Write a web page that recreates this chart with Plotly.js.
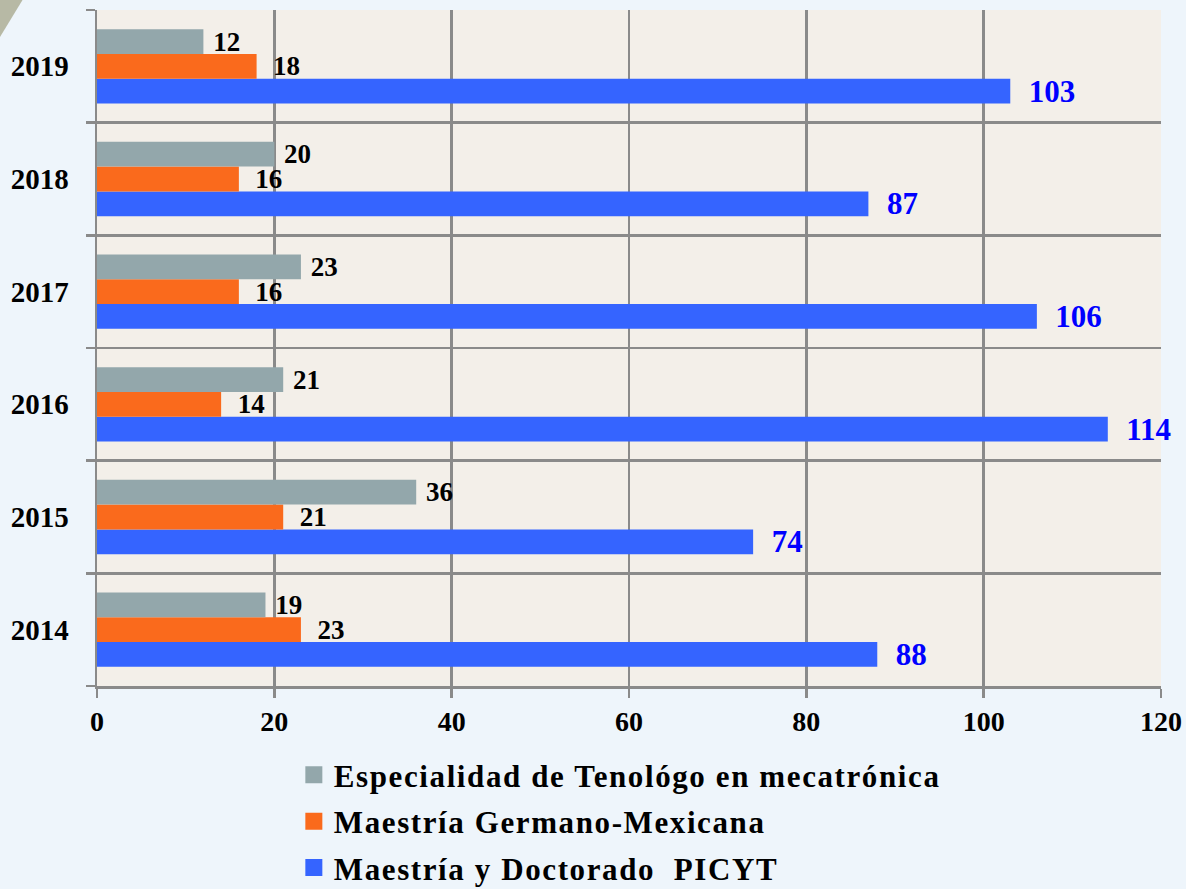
<!DOCTYPE html>
<html>
<head>
<meta charset="utf-8">
<script src="https://cdn.plot.ly/plotly-3.0.1.min.js"></script>
<style>
html,body{margin:0;padding:0;background:#eef5fb;}
#chart{width:1186px;height:889px;}
.legendtext{letter-spacing:1.6px;}
</style>
</head>
<body>
<div id="chart"></div>
<script>
var years = ['2014', '2015', '2016', '2017', '2018', '2019'];
var especialidad = [19, 36, 21, 23, 20, 12];
var germano = [23, 21, 14, 16, 16, 18];
var picyt = [88, 74, 114, 106, 87, 103];
var seriesNames = ['Especialidad de Tenológo en mecatrónica', 'Maestría Germano-Mexicana', 'Maestría y Doctorado  PICYT'];
var xTicks = [0, 20, 40, 60, 80, 100, 120];

var FONT = '"Liberation Serif", "DejaVu Serif", serif';
var NB = '\u00a0';

function lbl(arr, pad) {
  return arr.map(function (v) { return pad + v; });
}

var traces = [
  {
    type: 'bar', orientation: 'h', name: seriesNames[2], legendgroup: 'c', legendrank: 3,
    y: years, x: picyt, text: lbl(picyt, NB + NB),
    marker: {color: '#3564ff'},
    textposition: 'outside', constraintext: 'none', cliponaxis: false,
    textfont: {family: FONT, size: 31, color: '#0000ff', weight: 'bold'},
    hoverinfo: 'x+name'
  },
  {
    type: 'bar', orientation: 'h', name: seriesNames[1], legendgroup: 'b', legendrank: 2,
    y: years, x: germano, text: lbl(germano, NB + NB),
    marker: {color: '#fa6a1c'},
    textposition: 'outside', constraintext: 'none', cliponaxis: false,
    textfont: {family: FONT, size: 27, color: '#000000', weight: 'bold'},
    hoverinfo: 'x+name'
  },
  {
    type: 'bar', orientation: 'h', name: seriesNames[0], legendgroup: 'a', legendrank: 1,
    y: years, x: especialidad, text: lbl(especialidad, NB),
    marker: {color: '#93a7ab'},
    textposition: 'outside', constraintext: 'none', cliponaxis: false,
    textfont: {family: FONT, size: 27, color: '#000000', weight: 'bold'},
    hoverinfo: 'x+name'
  }
];

var layout = {
  width: 1186, height: 889,
  margin: {l: 97, r: 25, t: 10, b: 203, pad: 0, autoexpand: false},
  paper_bgcolor: '#eef5fb',
  plot_bgcolor: '#f3efe9',
  barmode: 'group',
  bargap: 0.34,
  bargroupgap: 0,
  font: {family: FONT, size: 28, color: '#000000', weight: 'bold'},
  showlegend: true,
  legend: {
    orientation: 'v', x: 0.185, xanchor: 'left', y: -0.092, yanchor: 'top',
    traceorder: 'grouped', tracegroupgap: 3,
    bgcolor: 'rgba(0,0,0,0)',
    font: {family: FONT, size: 31, color: '#000000', weight: 'bold'}
  },
  xaxis: {
    range: [0, 120], tickvals: xTicks, ticktext: xTicks.map(String),
    showgrid: true, gridcolor: '#8a8a8a', gridwidth: 2.5,
    zeroline: false, showline: true, linecolor: '#8a8a8a', linewidth: 2.5,
    ticks: 'outside', ticklen: 9, tickwidth: 2.5, tickcolor: '#8a8a8a',
    tickfont: {family: FONT, size: 28, color: '#000000', weight: 'bold'},
    fixedrange: true
  },
  yaxis: {
    type: 'category', categoryorder: 'array', categoryarray: years,
    tickson: 'boundaries', showgrid: true, gridcolor: '#8a8a8a', gridwidth: 2.5,
    showline: true, linecolor: '#8a8a8a', linewidth: 2.5, mirror: false,
    ticks: 'outside', ticklen: 9, tickwidth: 2.5, tickcolor: '#8a8a8a',
    ticklabelstandoff: 20,
    tickfont: {family: FONT, size: 29, color: '#000000', weight: 'bold'},
    fixedrange: true
  },
  shapes: [
    {type: 'path', xref: 'paper', yref: 'paper',
     path: 'M -0.0912 1.0148 L -0.0700 1.0148 L -0.0912 0.960 Z',
     fillcolor: '#a9aa90', line: {width: 0}, layer: 'below', opacity: 0.8}
  ]
};

Plotly.newPlot('chart', traces, layout, {displayModeBar: false, staticPlot: true}).then(function (gd) {
  var pts = gd.querySelectorAll('.legendpoints path');
  pts.forEach(function (p) { p.setAttribute('d', 'M8.5,8.5H-8.5V-8.5H8.5Z'); });
});
</script>
</body>
</html>
